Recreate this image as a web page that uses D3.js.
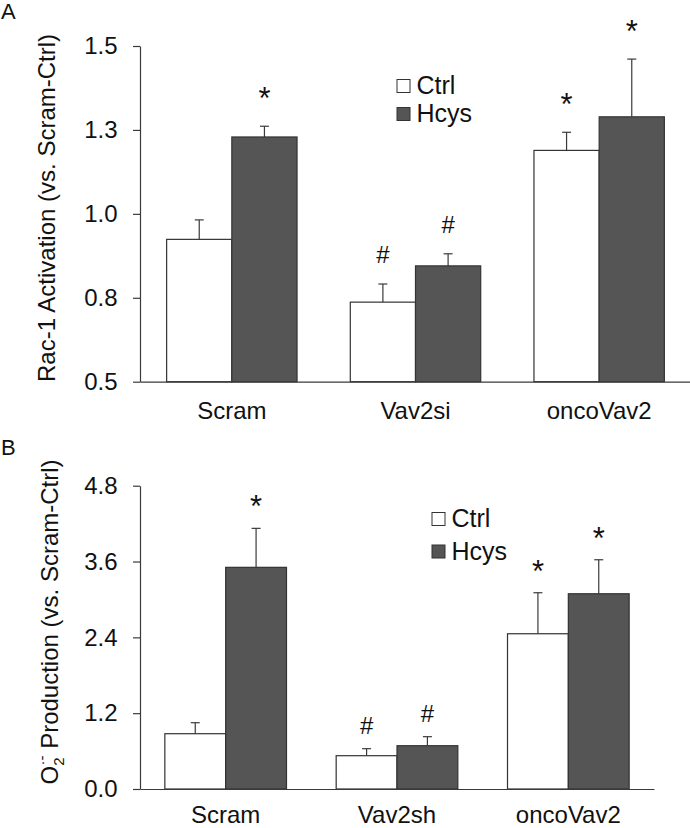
<!DOCTYPE html>
<html>
<head>
<meta charset="utf-8">
<script src="https://cdn.jsdelivr.net/npm/d3@7"></script>
<style>
  html, body { margin: 0; padding: 0; background: #fff; }
  svg { display: block; font-family: "Liberation Sans", Arial, sans-serif; }
</style>
</head>
<body>
<svg id="chart" width="690" height="828"></svg>
<script>
// ---------- Panel A data ----------
const categoriesA = ["Scram", "Vav2si", "oncoVav2"];
const ctrlA = [0.924, 0.737, 1.189];
const hcysA = [1.229, 0.845, 1.289];
const ctrlErrA = [0.058, 0.054, 0.054];
const hcysErrA = [0.032, 0.036, 0.172];
const ctrlMarksA = ["", "#", "*"];
const hcysMarksA = ["*", "#", "*"];
const tickValuesA = [0.5, 0.75, 1.0, 1.25, 1.5];
const tickLabelsA = ["0.5", "0.8", "1.0", "1.3", "1.5"];

// ---------- Panel B data ----------
const categoriesB = ["Scram", "Vav2sh", "oncoVav2"];
const ctrlB = [0.875, 0.527, 2.457];
const hcysB = [3.508, 0.685, 3.09];
const ctrlErrB = [0.174, 0.111, 0.649];
const hcysErrB = [0.617, 0.143, 0.538];
const ctrlMarksB = ["", "#", "*"];
const hcysMarksB = ["*", "#", "*"];
const tickValuesB = [0, 1.2, 2.4, 3.6, 4.8];
const tickLabelsB = ["0.0", "1.2", "2.4", "3.6", "4.8"];

const seriesNames = ["Ctrl", "Hcys"];

const svg = d3.select("#chart");
const LINE = "#3a3a3a";
const DARK = "#555555";
const seriesFill = ["#ffffff", DARK];

function panel(cfg) {
  const g = svg.append("g");
  const x = d3.scaleBand().domain(cfg.categories).range([cfg.x0, cfg.x1]).paddingInner(0.29).paddingOuter(0.145);
  const sub = d3.scaleBand().domain(seriesNames).range([0, x.bandwidth()]);
  const y = d3.scaleLinear().domain(cfg.domain).range([cfg.yBottom, cfg.yTop]);

  const rows = [];
  cfg.categories.forEach((c, i) => {
    rows.push({cat: c, s: "Ctrl", v: cfg.ctrl[i], e: cfg.ctrlErr[i], m: cfg.ctrlMarks[i]});
    rows.push({cat: c, s: "Hcys", v: cfg.hcys[i], e: cfg.hcysErr[i], m: cfg.hcysMarks[i]});
  });
  const cx = d => x(d.cat) + sub(d.s) + sub.bandwidth() / 2;

  // error bars (upward only)
  g.selectAll(".err").data(rows).join("line")
    .attr("x1", cx).attr("x2", cx)
    .attr("y1", d => y(d.v)).attr("y2", d => y(d.v + d.e))
    .attr("stroke", LINE).attr("stroke-width", 1.2);
  g.selectAll(".cap").data(rows).join("line")
    .attr("x1", d => cx(d) - 4.5).attr("x2", d => cx(d) + 4.5)
    .attr("y1", d => y(d.v + d.e)).attr("y2", d => y(d.v + d.e))
    .attr("stroke", LINE).attr("stroke-width", 1.2);

  // bars
  g.selectAll(".bar").data(rows).join("rect")
    .attr("x", d => x(d.cat) + sub(d.s))
    .attr("width", sub.bandwidth())
    .attr("y", d => y(d.v))
    .attr("height", d => y(cfg.domain[0]) - y(d.v))
    .attr("fill", d => d.s === "Ctrl" ? seriesFill[0] : seriesFill[1])
    .attr("stroke", "#333").attr("stroke-width", 1.2);

  // significance marks
  g.selectAll(".mark").data(rows.filter(d => d.m)).join("text")
    .attr("x", cx)
    .attr("y", d => y(d.v + d.e) - (d.m === "*" ? cfg.markOffset - 4 : cfg.markOffset))
    .attr("text-anchor", "middle")
    .attr("font-size", d => d.m === "*" ? 31 : 24)
    .attr("fill", "#111")
    .text(d => d.m);

  // y axis
  const yAxis = d3.axisLeft(y).tickValues(cfg.tickValues)
    .tickFormat((d, i) => cfg.tickLabels[i])
    .tickSizeInner(7).tickSizeOuter(0).tickPadding(15.5);
  const ya = g.append("g").attr("transform", `translate(${cfg.x0},0)`).call(yAxis);
  ya.selectAll("path, line").attr("stroke", LINE).attr("stroke-width", 1.2);
  ya.selectAll("text").attr("font-size", 24).attr("fill", "#111")
    .attr("font-family", "'Liberation Sans', Arial, sans-serif");

  // x axis
  const xAxis = d3.axisBottom(x).tickSize(0).tickPadding(cfg.catPad);
  const xa = g.append("g").attr("transform", `translate(0,${cfg.yBottom})`).call(xAxis);
  xa.select("path").attr("stroke", LINE).attr("stroke-width", 1.2);
  xa.selectAll("text").attr("font-size", 24).attr("fill", "#111")
    .attr("font-family", "'Liberation Sans', Arial, sans-serif");

  // legend
  const lg = g.append("g");
  seriesNames.forEach((s, i) => {
    const yy = cfg.legendY + i * cfg.legendStep;
    lg.append("rect").attr("x", cfg.legendX).attr("y", yy - 13).attr("width", 13).attr("height", 13)
      .attr("fill", seriesFill[i]).attr("stroke", "#333").attr("stroke-width", 1);
    lg.append("text").attr("x", cfg.legendX + 19.5).attr("y", yy + 1.5)
      .attr("font-size", 25).attr("fill", "#111").text(s);
  });

  // panel letter
  g.append("text").attr("x", 1).attr("y", cfg.letterY).attr("font-size", 22)
    .attr("fill", "#111").text(cfg.letter);

  return {g, y};
}

// Panel A
const A = panel({
  categories: categoriesA, ctrl: ctrlA, hcys: hcysA, ctrlErr: ctrlErrA, hcysErr: hcysErrA,
  ctrlMarks: ctrlMarksA, hcysMarks: hcysMarksA,
  tickValues: tickValuesA, tickLabels: tickLabelsA,
  domain: [0.5, 1.5], x0: 140, x1: 691, yBottom: 381.7, yTop: 46,
  markOffset: 21, catPad: 20, legendX: 397, legendY: 92.5, legendStep: 28, letter: "A", letterY: 19
});
A.g.append("text")
  .attr("transform", "translate(55,208) rotate(-90)")
  .attr("text-anchor", "middle").attr("font-size", 24).attr("fill", "#111")
  .text("Rac-1 Activation (vs. Scram-Ctrl)");

// Panel B
const B = panel({
  categories: categoriesB, ctrl: ctrlB, hcys: hcysB, ctrlErr: ctrlErrB, hcysErr: hcysErrB,
  ctrlMarks: ctrlMarksB, hcysMarks: hcysMarksB,
  tickValues: tickValuesB, tickLabels: tickLabelsB,
  domain: [0, 4.8], x0: 140, x1: 654, yBottom: 789, yTop: 485.7,
  markOffset: 15, catPad: 17, legendX: 432, legendY: 525.5, legendStep: 32.5, letter: "B", letterY: 455
});
const bl = B.g.append("text")
  .attr("transform", "translate(58,622) rotate(-90)")
  .attr("text-anchor", "middle").attr("font-size", 24).attr("fill", "#111");
bl.append("tspan").text("O");
bl.append("tspan").attr("font-size", 15).attr("dy", 6).text("2");
bl.append("tspan").attr("font-size", 15).attr("dx", -8).attr("dy", -17).text("·-");
bl.append("tspan").attr("dy", 11).text(" Production (vs. Scram-Ctrl)");
</script>
</body>
</html>
